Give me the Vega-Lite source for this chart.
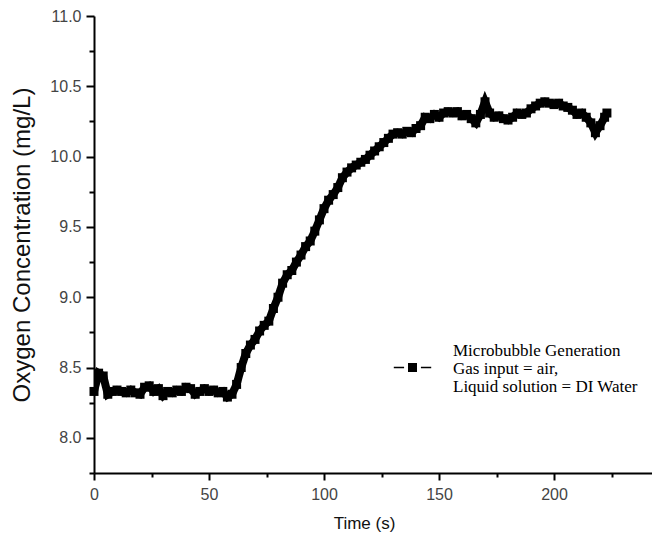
{
  "$schema": "https://vega.github.io/schema/vega-lite/v6.json",
  "width": 558,
  "height": 457,
  "autosize": {"type": "none"},
  "padding": {"left": 94, "top": 16, "right": 0, "bottom": 71},
  "background": "white",
  "config": {
    "view": {"stroke": null},
    "axis": {
      "grid": false,
      "domainColor": "black",
      "domainWidth": 2,
      "tickColor": "black",
      "tickWidth": 2,
      "labelFont": "Liberation Sans",
      "labelFontSize": 16,
      "labelColor": "#444",
      "titleFont": "Liberation Sans",
      "titleFontWeight": "normal",
      "titleColor": "#111"
    }
  },
  "data": {
    "values": [
      {"t": 0, "v": 8.33}, {"t": 2, "v": 8.46}, {"t": 4, "v": 8.44}, {"t": 6, "v": 8.31},
      {"t": 8, "v": 8.33}, {"t": 10, "v": 8.34}, {"t": 12, "v": 8.33}, {"t": 14, "v": 8.32},
      {"t": 16, "v": 8.34}, {"t": 18, "v": 8.32}, {"t": 20, "v": 8.31}, {"t": 22, "v": 8.36},
      {"t": 24, "v": 8.37}, {"t": 26, "v": 8.33}, {"t": 28, "v": 8.35}, {"t": 30, "v": 8.30},
      {"t": 32, "v": 8.33}, {"t": 34, "v": 8.32}, {"t": 36, "v": 8.34}, {"t": 38, "v": 8.33},
      {"t": 40, "v": 8.36}, {"t": 42, "v": 8.35}, {"t": 44, "v": 8.31}, {"t": 46, "v": 8.33},
      {"t": 48, "v": 8.35}, {"t": 50, "v": 8.33}, {"t": 52, "v": 8.34}, {"t": 54, "v": 8.32},
      {"t": 56, "v": 8.33}, {"t": 58, "v": 8.29}, {"t": 60, "v": 8.31}, {"t": 62, "v": 8.38},
      {"t": 64, "v": 8.50}, {"t": 66, "v": 8.60}, {"t": 68, "v": 8.66}, {"t": 70, "v": 8.70},
      {"t": 72, "v": 8.76}, {"t": 74, "v": 8.80}, {"t": 76, "v": 8.83}, {"t": 78, "v": 8.92},
      {"t": 80, "v": 9.00}, {"t": 82, "v": 9.10}, {"t": 84, "v": 9.16}, {"t": 86, "v": 9.19},
      {"t": 88, "v": 9.25}, {"t": 90, "v": 9.30}, {"t": 92, "v": 9.36}, {"t": 94, "v": 9.40},
      {"t": 96, "v": 9.47}, {"t": 98, "v": 9.55}, {"t": 100, "v": 9.63}, {"t": 102, "v": 9.69},
      {"t": 104, "v": 9.73}, {"t": 106, "v": 9.78}, {"t": 108, "v": 9.85}, {"t": 110, "v": 9.89},
      {"t": 112, "v": 9.92}, {"t": 114, "v": 9.94}, {"t": 116, "v": 9.96}, {"t": 118, "v": 9.98},
      {"t": 120, "v": 10.01}, {"t": 122, "v": 10.04}, {"t": 124, "v": 10.07}, {"t": 126, "v": 10.10},
      {"t": 128, "v": 10.13}, {"t": 130, "v": 10.16}, {"t": 132, "v": 10.17}, {"t": 134, "v": 10.16},
      {"t": 136, "v": 10.18}, {"t": 138, "v": 10.17}, {"t": 140, "v": 10.20}, {"t": 142, "v": 10.22},
      {"t": 144, "v": 10.28}, {"t": 146, "v": 10.27}, {"t": 148, "v": 10.30}, {"t": 150, "v": 10.28},
      {"t": 152, "v": 10.31}, {"t": 154, "v": 10.32}, {"t": 156, "v": 10.31}, {"t": 158, "v": 10.32},
      {"t": 160, "v": 10.29}, {"t": 162, "v": 10.30}, {"t": 164, "v": 10.27}, {"t": 166, "v": 10.24},
      {"t": 168, "v": 10.30}, {"t": 170, "v": 10.39}, {"t": 172, "v": 10.31}, {"t": 174, "v": 10.28},
      {"t": 176, "v": 10.29}, {"t": 178, "v": 10.27}, {"t": 180, "v": 10.26}, {"t": 182, "v": 10.28},
      {"t": 184, "v": 10.31}, {"t": 186, "v": 10.30}, {"t": 188, "v": 10.31}, {"t": 190, "v": 10.34},
      {"t": 192, "v": 10.36}, {"t": 194, "v": 10.38}, {"t": 196, "v": 10.39}, {"t": 198, "v": 10.38},
      {"t": 200, "v": 10.37}, {"t": 202, "v": 10.38}, {"t": 204, "v": 10.36}, {"t": 206, "v": 10.35},
      {"t": 208, "v": 10.33}, {"t": 210, "v": 10.30}, {"t": 212, "v": 10.31}, {"t": 214, "v": 10.28},
      {"t": 216, "v": 10.24}, {"t": 218, "v": 10.17}, {"t": 220, "v": 10.22}, {"t": 222, "v": 10.28},
      {"t": 223, "v": 10.31}
    ]
  },
  "encoding": {
    "x": {
      "field": "t",
      "type": "quantitative",
      "scale": {"domain": [0, 242.6], "nice": false, "zero": false},
      "axis": {
        "title": "Time (s)",
        "titleFontSize": 17,
        "values": [0, 25, 50, 75, 100, 125, 150, 175, 200, 225],
        "labelExpr": "datum.value % 50 === 0 ? datum.label : ''",
        "tickSize": {"condition": {"test": "datum.value % 50 === 0", "value": 7}, "value": 4},
        "labelFlush": false,
        "labelOverlap": false,
        "labelPadding": 6,
        "titlePadding": 13,
        "titleX": 270
      }
    },
    "y": {
      "field": "v",
      "type": "quantitative",
      "scale": {"domain": [7.75, 11.0], "nice": false, "zero": false},
      "axis": {
        "title": "Oxygen Concentration (mg/L)",
        "titleFontSize": 24,
        "values": [7.75, 8.0, 8.25, 8.5, 8.75, 9.0, 9.25, 9.5, 9.75, 10.0, 10.25, 10.5, 10.75, 11.0],
        "labelExpr": "round(datum.value * 4) % 2 === 0 ? format(datum.value, '.1f') : ''",
        "tickSize": {"condition": {"test": "round(datum.value * 4) % 2 === 0", "value": 8}, "value": 5},
        "labelOverlap": false,
        "labelPadding": 5,
        "titlePadding": 15
      }
    }
  },
  "layer": [
    {
      "mark": {"type": "line", "color": "black", "strokeWidth": 8, "clip": true},
      "encoding": {
        "strokeDash": {
          "datum": "legend text",
          "scale": {"range": [[1, 0]]},
          "legend": {
            "orient": "none",
            "legendX": 359,
            "legendY": 327,
            "title": ["Microbubble Generation", "Gas input = air,", "Liquid solution = DI Water"],
            "titleFont": "Liberation Serif",
            "titleFontSize": 17,
            "titleFontWeight": "normal",
            "titleColor": "black",
            "titleLineHeight": 18,
            "titleLimit": 400,
            "symbolOpacity": 0,
            "symbolStrokeWidth": 0,
            "symbolSize": 1,
            "labelExpr": "''"
          }
        }
      }
    },
    {
      "mark": {"type": "point", "shape": "square", "filled": true, "size": 81, "opacity": 1},
      "encoding": {
        "color": {
          "datum": "Microbubble Generation",
          "scale": {"range": ["black"]},
          "legend": {
            "orient": "none",
            "legendX": 299,
            "legendY": 332,
            "title": null,
            "symbolType": "M-1,0H-0.45M0.45,0H1M-0.2,-0.2H0.2V0.2H-0.2Z",
            "symbolSize": 1400,
            "symbolStrokeWidth": 1.5,
            "symbolFillColor": "black",
            "symbolStrokeColor": "black",
            "labelExpr": "''"
          }
        }
      }
    }
  ]
}
